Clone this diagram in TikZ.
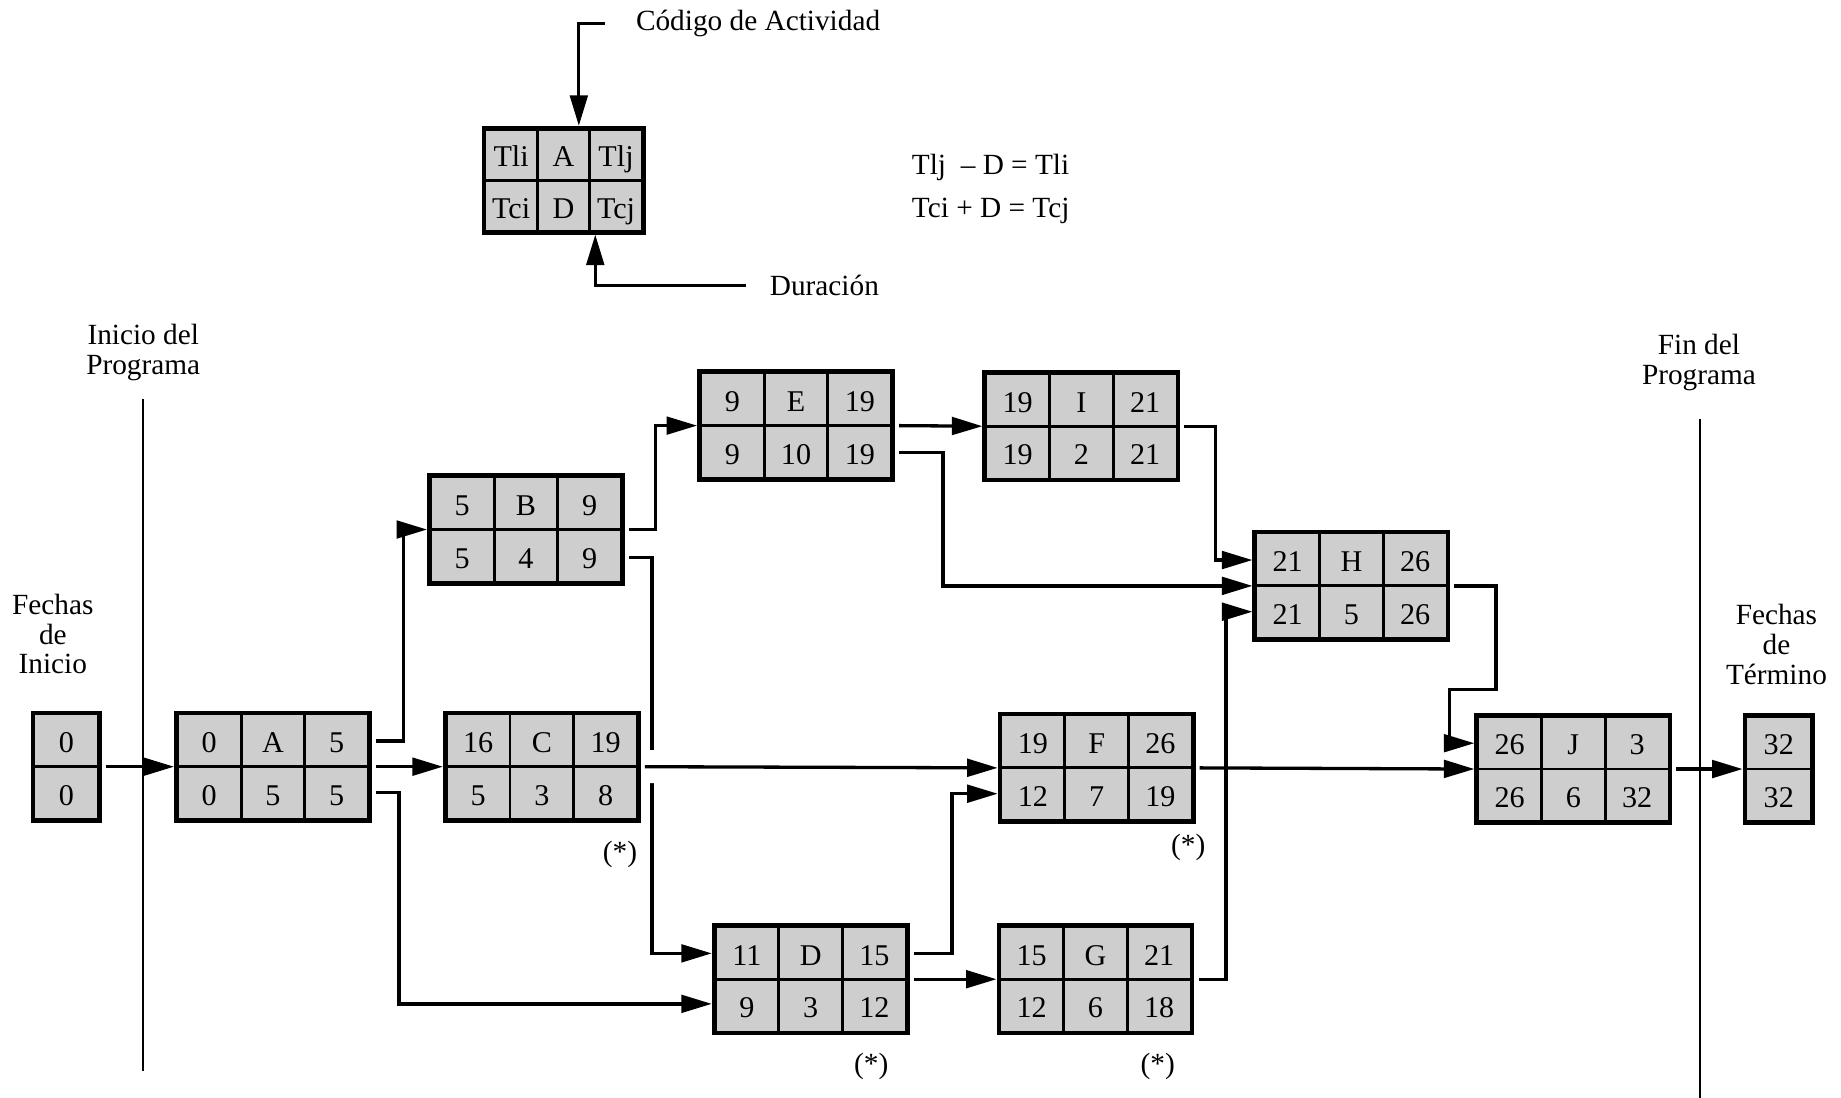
\documentclass[tikz,border=0pt]{standalone}
\usepackage{fontspec}
\setmainfont{Liberation Serif}
\usetikzlibrary{arrows.meta, positioning, matrix, calc}
\definecolor{boxgray}{RGB}{206,206,206}
\newcommand{\lblfont}{\fontsize{7.1}{7.2}\selectfont}
\newcommand{\boxfont}{\fontsize{7.3}{8}\selectfont}
\tikzset{
  act/.style={matrix of nodes, draw, fill=boxgray, line width=0.9pt, inner sep=0pt,
    column sep=-0.7pt, row sep=-0.7pt,
    nodes={draw, line width=0.7pt, minimum width=5.43mm, minimum height=4.5mm,
           text height=1.55ex, text depth=0.25ex, inner sep=0pt, font=\boxfont}},
  conn/.style={-{Triangle[length=2.6mm, width=1.5mm]}, line width=0.8pt, shorten <=1pt},
  lbl/.style={font=\lblfont, align=center, inner sep=0pt},
  progline/.style={line width=0.6pt},
}

\begin{document}
\begin{tikzpicture}
  \useasboundingbox (0,0) rectangle (15.68,9.35);

  % Legend box
  \matrix[act, nodes={minimum width=4.47mm, minimum height=4.35mm}] (K) at (4.80,7.815)
    {Tli & A & Tlj\\ Tci & D & Tcj\\};
  \node[lbl, anchor=west] (cod) at (5.41,9.15) {Código de Actividad};
  \node[lbl, anchor=west] (dur) at (6.55,6.92) {Duración};
  \node[lbl, anchor=west] (eq1) at (7.76,7.92) {Tlj~~– D = Tli};
  \node[lbl, anchor=west] (eq2) at (7.76,7.55) {Tci + D = Tcj};
  \draw[conn, shorten <=2.6mm] (cod.west) -| ([xshift=1.3mm]K.north);
  \draw[conn, shorten <=2mm] (dur.west) -| ([xshift=2.7mm]K.south);

  % Program limits
  \node[lbl] (ini) at (1.22,6.35) {Inicio del\\Programa};
  \node[lbl] (fin) at (14.47,6.26) {Fin del\\Programa};
  \node[lbl] (fi) at (0.45,3.95) {Fechas\\de\\Inicio};
  \node[lbl] (ft) at (15.13,3.86) {Fechas\\de\\Término};
  \coordinate (iniTop) at (1.22,5.95);
  \coordinate (iniBot) at (1.22,0.23);
  \coordinate (finTop) at (14.48,5.78);
  \coordinate (finBot) at (14.48,0);
  \draw[progline] (iniTop) -- (iniBot);
  \draw[progline] (finTop) -- (finBot);

  % Activities
  \matrix[act, nodes={minimum width=5.5mm}] (S) at (0.565,2.82) {0\\0\\};
  \matrix[act] (A) at (2.325,2.82) {0 & A & 5\\ 0 & 5 & 5\\};
  \matrix[act] (C) at (4.615,2.82) {16 & C & 19\\ 5 & 3 & 8\\};
  \matrix[act] (B) at (4.48,4.84) {5 & B & 9\\ 5 & 4 & 9\\};
  \matrix[act] (E) at (6.78,5.725) {9 & E & 19\\ 9 & 10 & 19\\};
  \matrix[act] (I) at (9.21,5.72) {19 & I & 21\\ 19 & 2 & 21\\};
  \matrix[act] (H) at (11.51,4.36) {21 & H & 26\\ 21 & 5 & 26\\};
  \matrix[act] (F) at (9.34,2.81) {19 & F & 26\\ 12 & 7 & 19\\};
  \matrix[act] (D) at (6.905,1.01) {11 & D & 15\\ 9 & 3 & 12\\};
  \matrix[act] (G) at (9.33,1.01) {15 & G & 21\\ 12 & 6 & 18\\};
  \matrix[act] (J) at (13.40,2.80) {26 & J & 3\\ 26 & 6 & 32\\};
  \matrix[act, nodes={minimum width=5.6mm}] (T) at (15.15,2.80) {32\\32\\};

  \node[lbl] (sC) at (5.28,2.07) {(*)};
  \node[lbl] (sF) at (10.12,2.13) {(*)};
  \node[lbl] (sD) at (7.42,0.27) {(*)};
  \node[lbl] (sG) at (9.86,0.27) {(*)};

  % Connectors
  \draw[conn] (S.east) -- (A.west);
  \draw[conn] (A.east) -- (C.west);
  \draw[conn] ([yshift=2.2mm]A.east) -- ++(0.27,0) |- (B.west);
  \draw[conn] ([yshift=-2.2mm]A.east) -- ++(0.23,0) |- ([yshift=-2.1mm]D.west);
  \draw[conn] (B.east) -- ++(0.26,0) |- (E.west);
  \draw[conn] ([yshift=-2.4mm]B.east) -- ++(0.23,0) |- ([yshift=2.2mm]D.west);
  \draw[conn, preaction={draw=white, line width=8pt, -, shorten <=0.5mm, shorten >=5mm}]
    (C.east) -- (F.west);
  \draw[conn] ([yshift=2.2mm]D.east) -- ++(0.36,0) |- ([yshift=-2.2mm]F.west);
  \draw[conn] (D.east) -- (G.west);
  \draw[conn] (E.east) -- (I.west);
  \draw[conn] ([yshift=-2.3mm]E.east) -- ++(0.41,0) |- (H.west);
  \draw[conn] (I.east) -- ++(0.30,0) |- ([yshift=2.2mm]H.west);
  \draw[conn] (G.east) -- ++(0.27,0) |- ([yshift=-2.2mm]H.west);
  \draw[conn] (F.east) -- (J.west);
  \draw[conn] (H.east) -- ++(0.39,0) -- ++(0,-0.88) -- ++(-0.40,0) |- ([yshift=2.2mm]J.west);
  \draw[conn] (J.east) -- (T.west);
\end{tikzpicture}
\end{document}
